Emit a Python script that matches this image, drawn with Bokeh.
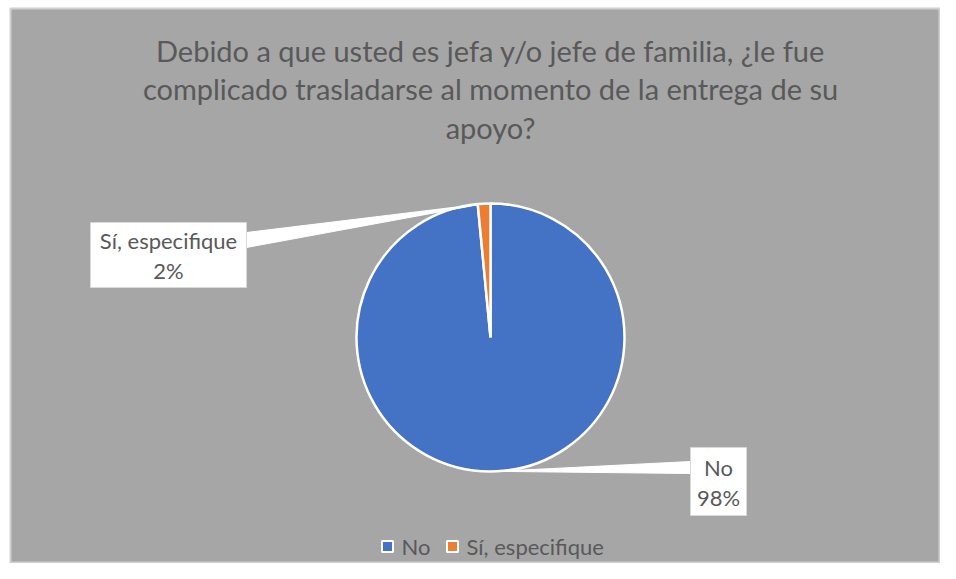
import math
from bokeh.plotting import figure
from bokeh.models import Range1d
from bokeh.core.properties import value
from bokeh.embed import file_html
from bokeh.resources import INLINE

# ---- data ----
categories = ["No", "Sí, especifique"]
counts = [65, 1]
pct_labels = ["98%", "2%"]
colors = ["#4472C4", "#ED7D31"]
title_lines = [
    "Debido a que usted es jefa y/o jefe de familia, ¿le fue",
    "complicado trasladarse al momento de la entrega de su",
    "apoyo?",
]

W, H = 940, 563
FONT = "Lato"
TXT = "#595959"

p = figure(width=W, height=H, output_backend="svg", toolbar_location=None,
           x_range=Range1d(10, W), y_range=Range1d(0, H - 8),
           x_axis_location=None, y_axis_location=None,
           min_border_left=10, min_border_top=8, min_border_right=0, min_border_bottom=0)
p.grid.visible = False
p.background_fill_color = "#A6A6A6"
p.border_fill_color = "white"
p.outline_line_color = "#D0D0D0"
p.outline_line_width = 2

# title
ty = [513, 475, 436]
p.text(x=[490] * 3, y=ty, text=title_lines, text_align="center", text_baseline="middle",
       text_font=value(FONT), text_font_size="29px", text_color=TXT)

# pie
cx, cy, r = 490, 226, 134
total = sum(counts)
starts, ends, mids = [], [], []
cum = 0.0
for c in counts:
    a0 = math.pi / 2 - 2 * math.pi * cum / total
    cum += c
    a1 = math.pi / 2 - 2 * math.pi * cum / total
    starts.append(a0)
    ends.append(a1)
    mids.append((a0 + a1) / 2)
p.wedge(x=cx, y=cy, radius=r, start_angle=starts, end_angle=ends, direction="clock",
        fill_color=colors, line_color="white", line_width=2.5)

# callouts (box layout positions)
boxes = [
    dict(l=690, r=746, t=116, b=48, ly=[96, 66], ax=690, ay=(102, 90)),
    dict(l=90, r=246, t=341, b=276, ly=[323, 293], ax=246, ay=(331, 316)),
]
for i, bx in enumerate(boxes):
    tipx = cx + r * math.cos(mids[i])
    tipy = cy + r * math.sin(mids[i])
    p.patch(x=[bx["ax"], bx["ax"], tipx], y=[bx["ay"][0], bx["ay"][1], tipy],
            fill_color="white", line_color="white", line_width=1)
    p.quad(left=bx["l"], right=bx["r"], top=bx["t"], bottom=bx["b"],
           fill_color="white", line_color="#D9D9D9", line_width=1)
    xc = (bx["l"] + bx["r"]) / 2
    p.text(x=[xc, xc], y=bx["ly"], text=[categories[i], pct_labels[i]],
           text_align="center", text_baseline="middle", text_font=value(FONT),
           text_font_size="22px", text_color=TXT)

# legend
lx = [387, 452]
p.rect(x=lx, y=[17, 17], width=11, height=11, fill_color=colors,
       line_color="white", line_width=2)
p.text(x=[v + 14 for v in lx], y=[17, 17], text=categories, text_align="left",
       text_baseline="middle", text_font=value(FONT), text_font_size="22px", text_color=TXT)

open("out.html", "w").write(file_html(p, INLINE))
